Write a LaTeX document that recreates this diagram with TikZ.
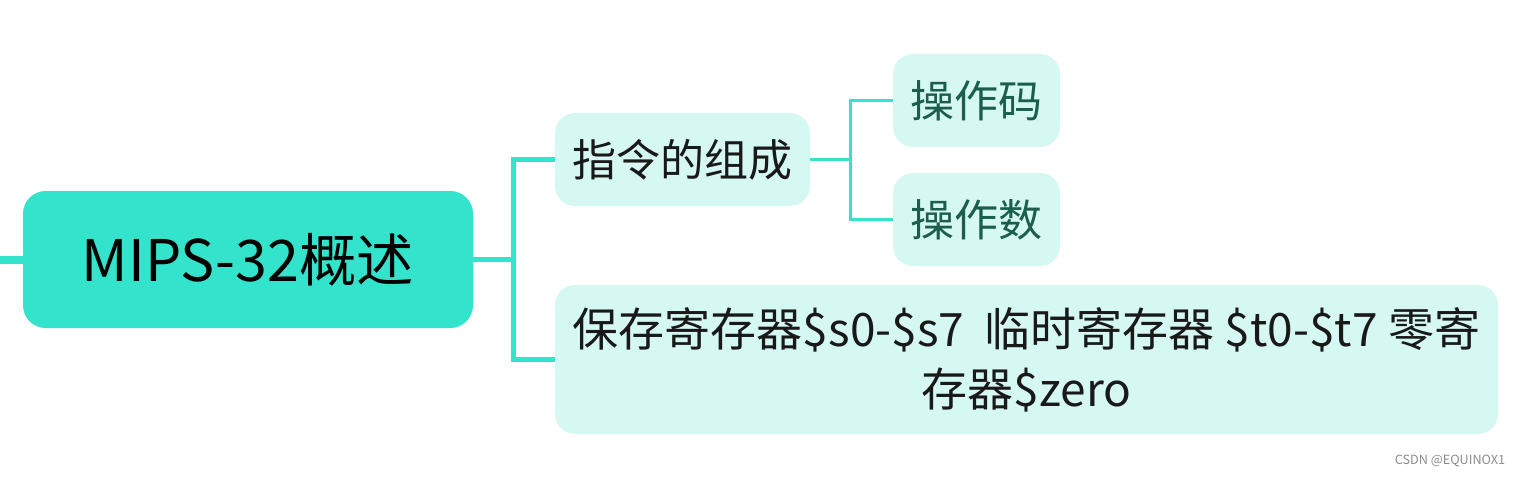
\documentclass[tikz,border=0pt]{standalone}
\usepackage{fontspec}
\newfontfamily\cjk{Noto Sans CJK SC}
\usetikzlibrary{positioning}
\definecolor{zhuse}{HTML}{33E3CC}
\definecolor{qianse}{HTML}{D6F8F3}
\definecolor{shenlv}{HTML}{1B5E4E}
\tikzset{
  rootbox/.style={fill=zhuse, rounded corners=17pt, minimum width=337.5pt, minimum height=102.75pt, font=\cjk\fontsize{43}{49}\selectfont, text=black},
  subbox/.style={fill=qianse, rounded corners=15pt, minimum height=69.75pt, font=\cjk\fontsize{33}{45}\selectfont, text=black!90},
  leafbox/.style={subbox, minimum width=125.25pt, text=shenlv},
  thickline/.style={draw=zhuse, line width=3.75pt},
  thinline/.style={draw=zhuse, line width=2.25pt}
}
\begin{document}
\begin{tikzpicture}[x=0.75pt, y=-0.75pt]
  \useasboundingbox (0,0) rectangle (1522,478);
  % 中心主题
  \node[rootbox] (root) at (248,259.5) {MIPS-32概述};
  % 一级分支
  \node[subbox, minimum width=191.25pt] (zucheng) at (682.5,159.5) {指令的组成};
  \node[subbox, minimum width=707.25pt, minimum height=111.75pt, align=center, font=\cjk\fontsize{34.5}{45}\selectfont] (jicunqi) at (1026.5,359.5)
    {保存寄存器\$s0-\$s7~~临时寄存器 \$t0-\$t7 零寄\\存器\$zero};
  % 二级分支
  \node[leafbox] (caozuoma) at (976.5,100.5) {操作码};
  \node[leafbox] (caozuoshu) at (976.5,219.5) {操作数};
  % 连线
  \coordinate (zuo) at (0,259.5);
  \coordinate (cha1) at (513,259.5);
  \coordinate (cha2) at (850,159.5);
  \draw[thickline, line width=6pt] (zuo) -- (root.west);
  \draw[thickline] (root.east) -- (cha1) |- (zucheng.west);
  \draw[thickline] (cha1) |- (jicunqi.west);
  \draw[thinline] (zucheng.east) -- (cha2) |- (caozuoma.west);
  \draw[thinline] (cha2) |- (caozuoshu.west);
  % 水印
  \node[font=\cjk\fontsize{9.5}{11}\selectfont, text=black!45] (shuiyin) at (1450,461) {CSDN @EQUINOX1};
\end{tikzpicture}
\end{document}
